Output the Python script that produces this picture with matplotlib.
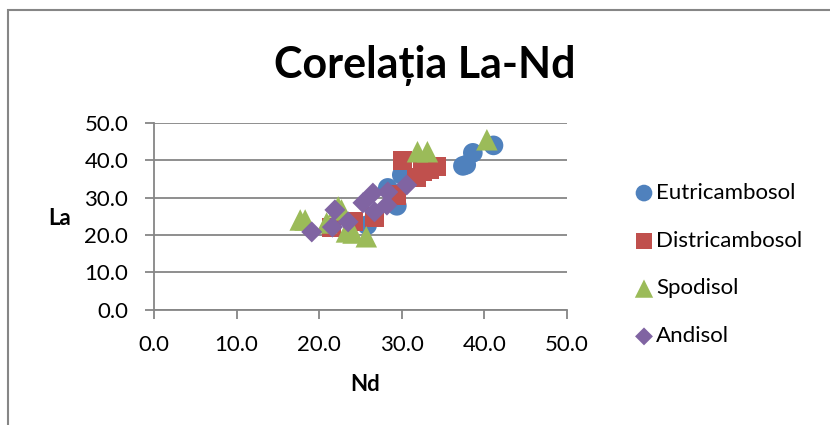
import matplotlib
matplotlib.use("Agg")
import matplotlib.pyplot as plt
from matplotlib.patches import Rectangle

plt.rcParams['font.family'] = ['Lato', 'DejaVu Sans']

# Nd (x) and La (y) per soil type
eutri_nd = [41.1, 38.6, 37.4, 37.8, 30.0, 28.3, 29.4, 25.8]
eutri_la = [44.0, 42.0, 38.5, 38.8, 36.1, 32.6, 27.8, 22.6]

distri_nd = [30.1, 32.5, 34.2, 31.8, 29.4, 26.7, 21.5, 24.1, 33.4]
distri_la = [39.9, 36.9, 38.3, 35.3, 30.7, 24.8, 21.9, 23.5, 37.5]

spodi_nd = [40.3, 31.9, 33.1, 17.7, 18.3, 22.7, 22.3, 23.3, 24.1, 25.7, 20.9]
spodi_la = [45.5, 42.3, 42.3, 24.0, 24.0, 26.7, 27.5, 20.8, 20.5, 19.5, 23.2]

andi_nd = [19.1, 21.6, 21.9, 23.5, 25.3, 26.5, 26.7, 28.2, 28.3, 30.6]
andi_la = [20.8, 22.1, 26.7, 23.5, 28.6, 31.2, 26.2, 28.0, 31.5, 33.4]

series = [
    ("Eutricambosol", eutri_nd, eutri_la, "o", "#4F81BD", 200),
    ("Districambosol", distri_nd, distri_la, "s", "#C0504D", 190),
    ("Spodisol", spodi_nd, spodi_la, "^", "#9BBB59", 240),
    ("Andisol", andi_nd, andi_la, "D", "#8064A2", 115),
]

ticks = [0, 10, 20, 30, 40, 50]
tick_labels = ["0.0", "10.0", "20.0", "30.0", "40.0", "50.0"]

fig = plt.figure(figsize=(8.3, 4.25), dpi=100)
ax = fig.add_axes([154 / 830, 1 - 309.5 / 425, 413 / 830, 186.5 / 425])

for name, xs, ys, mk, col, s in series:
    ax.scatter(xs, ys, marker=mk, s=s, color=col, edgecolors='none',
               label=name, zorder=3, clip_on=False)

ax.set_xlim(0, 50)
ax.set_ylim(0, 50)
ax.set_xticks(ticks)
ax.set_xticklabels(tick_labels)
ax.set_yticks(ticks)
ax.set_yticklabels(tick_labels)
ax.tick_params(axis='both', direction='out', length=6.5, width=1.3,
               color='#868686', labelsize=16, labelcolor='black')
ax.tick_params(axis='y', pad=12)
ax.tick_params(axis='x', pad=12)
ax.grid(axis='y', color='#868686', linewidth=1.3)
ax.set_axisbelow(True)
for side in ('top', 'right'):
    ax.spines[side].set_visible(False)
for side in ('left', 'bottom'):
    ax.spines[side].set_color('#868686')
    ax.spines[side].set_linewidth(1.3)

ax.set_xlabel("Nd", fontsize=16, fontweight='bold', va='center')
ax.xaxis.set_label_coords(0.511, -0.40)
ax.set_ylabel("La", fontsize=16, fontweight='bold', rotation=0,
              va='center', ha='center')
ax.yaxis.set_label_coords(-0.228, 0.49)

fig.text(0.512, 1 - 65 / 425, "Corelația La-Nd", fontsize=31,
         fontweight='bold', ha='center', va='center')

leg = ax.legend(loc='upper left', bbox_to_anchor=(624 / 830, 1 - 174 / 425),
                bbox_transform=fig.transFigure, frameon=False, fontsize=16,
                handletextpad=0.05, labelspacing=1.25, borderaxespad=0,
                handlelength=1.0, scatterpoints=1, markerscale=0.85)

# outer chart border
fig.patches.append(Rectangle((7.5 / 830, -0.1), 1.2, 1 - 10.5 / 425 + 0.1,
                             transform=fig.transFigure, fill=False,
                             edgecolor='#868686', linewidth=1.5))

fig.savefig("out.png", dpi=100)
